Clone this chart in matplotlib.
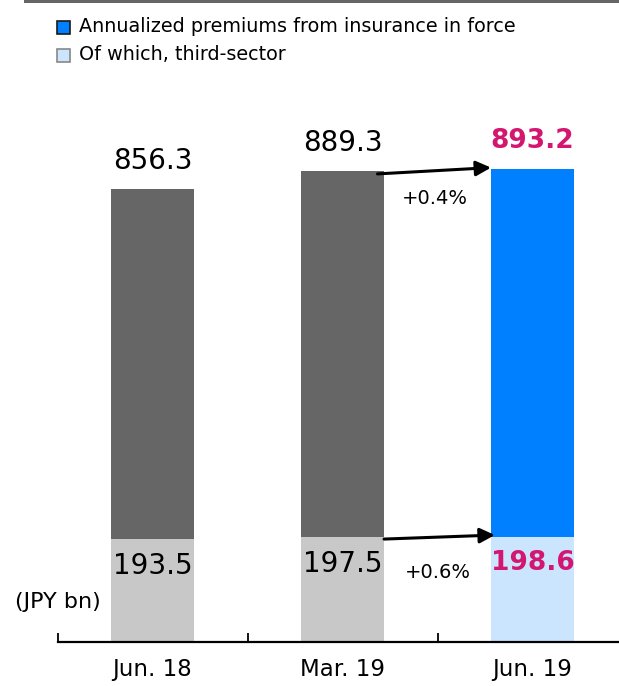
import matplotlib
matplotlib.use("Agg")
import matplotlib.pyplot as plt
from matplotlib.patches import Rectangle
import numpy as np

# data (JPY bn)
categories = ["Jun. 18", "Mar. 19", "Jun. 19"]
annualized = [856.3, 889.3, 893.2]
third_sector = [193.5, 197.5, 198.6]
growth_labels = ["+0.4%", "+0.6%"]
legend_labels = ["Annualized premiums from insurance in force", "Of which, third-sector"]

W, H = 619, 686
DARK = "#666666"
LIGHT = "#c8c8c8"
BLUE = "#0080ff"
LBLUE = "#cce5ff"
MAGENTA = "#d3166f"

plt.rcParams["font.family"] = ["DejaVu Sans"]

fig = plt.figure(figsize=(W / 100, H / 100), dpi=100)


def fx(x):
    return x / W


def fy(y):
    return 1 - y / H


# top rule
fig.add_artist(Rectangle((fx(24), fy(3)), fx(619) - fx(24), 3 / H,
                         transform=fig.transFigure, color=DARK, lw=0))

# legend
legend_faces = [BLUE, LBLUE]
legend_edges = ["#1a1a1a", "#888888"]
for i, (lab, fc, ec) in enumerate(zip(legend_labels, legend_faces, legend_edges)):
    yc = 27 + 28 * i
    fig.add_artist(Rectangle((fx(57.5), fy(yc + 6.5)), 13 / W, 13 / H,
                             transform=fig.transFigure, facecolor=fc,
                             edgecolor=ec, lw=1.2))
    fig.text(fx(79), fy(yc), lab, fontsize=13.8, va="center", ha="left")

fig.text(fx(58), fy(602), "(JPY bn)", fontsize=16, ha="center", va="center")

ax = fig.add_axes([fx(57.5), 44.3 / H, 1 - fx(57.5), 1100 * 0.529 / H])
x = np.arange(len(categories))
width = 0.437
tot = np.array(annualized)
ts = np.array(third_sector)
upper = tot - ts

top_colors = [DARK, DARK, BLUE]
bot_colors = [LIGHT, LIGHT, LBLUE]
ax.bar(x, ts, width, color=bot_colors, zorder=1)
ax.bar(x, upper, width, bottom=ts, color=top_colors, zorder=1)

ax.set_xlim(-0.5, 2.455)
ax.set_ylim(0, 1100)
for s in ["top", "left", "right"]:
    ax.spines[s].set_visible(False)
ax.spines["bottom"].set_linewidth(1.6)
ax.set_yticks([])
ax.set_xticks([-0.5, 0.5, 1.5])
ax.set_xticklabels([])
ax.tick_params(axis="x", which="major", direction="in", length=6.5, width=1.3)
ax.set_xticks(x, minor=True)
ax.set_xticklabels(categories, minor=True, fontsize=16.5)
ax.tick_params(axis="x", which="minor", length=0, pad=12)

# value labels
for i in range(len(categories)):
    last = i == len(categories) - 1
    kw = dict(color=MAGENTA, fontweight="bold", fontsize=19) if last else dict(color="black", fontsize=20)
    ax.annotate(f"{tot[i]:.1f}", (x[i], tot[i]), xytext=(0, 20),
                textcoords="offset points", ha="center", va="center", **kw)
    ax.annotate(f"{ts[i]:.1f}", (x[i], ts[i]), xytext=(0, -19),
                textcoords="offset points", ha="center", va="center", **kw)

# growth arrows
arrow = dict(arrowstyle="-|>,head_length=0.9,head_width=0.45", lw=2.2,
             color="black", mutation_scale=10, shrinkA=0, shrinkB=0)
ax.annotate("", xy=(x[2] - width / 2, tot[2] + 3), xytext=(x[1] + 0.184, tot[1] - 5),
            arrowprops=arrow, zorder=3)
ax.annotate("", xy=(x[2] - width / 2 + 0.02, ts[2] + 3), xytext=(x[1] + width / 2, ts[1] - 3.5),
            arrowprops=arrow, zorder=3)
ax.text(1.487, tot[1] - 51, growth_labels[0], fontsize=14, ha="center", va="center")
ax.text(1.503, ts[1] - 67, growth_labels[1], fontsize=14, ha="center", va="center")

fig.savefig("out.png", dpi=100)
